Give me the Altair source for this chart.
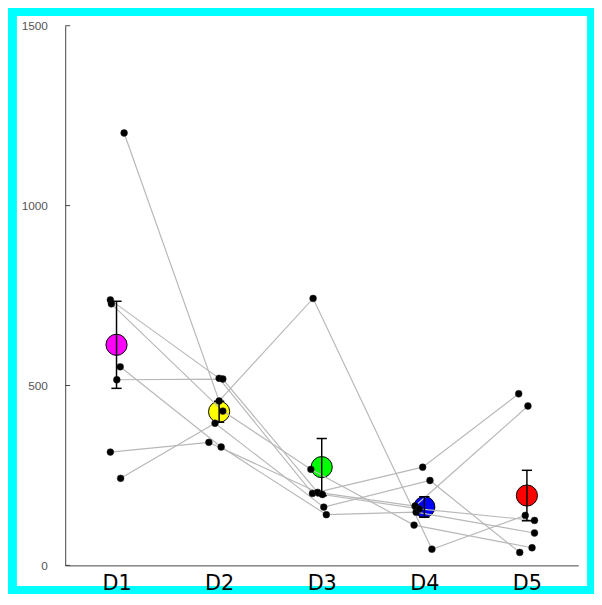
import altair as alt
import pandas as pd

groups = ["D1", "D2", "D3", "D4", "D5"]
subjects = ["S1", "S2", "S3", "S4", "S5", "S6", "S7"]

# values per subject (same order in every list)
d1 = [1202, 738, 727, 552, 516, 315, 242]
d2 = [457, 520, 429, 329, 518, 342, 395]
d3 = [742, 200, 267, 141, 203, 197, 162]
d4 = [45, 273, 112, 148, 165, 157, 236]
d5 = [139, 477, 49, 90, 443, 125, 36]

# horizontal jitter of each point, in group units
j1 = [0.074, -0.06, -0.05, 0.036, 0.003, -0.06, 0.04]
j2 = [0.0, 0.0, 0.036, 0.02, 0.036, -0.10, -0.04]
j3 = [-0.084, -0.09, -0.106, 0.045, -0.04, 0.007, 0.02]
j4 = [0.074, -0.016, -0.10, -0.08, -0.09, -0.05, 0.055]
j5 = [-0.016, -0.08, 0.05, 0.074, 0.01, 0.074, -0.07]

mean_colors = ["#ff00ff", "#ffff00", "#00ff00", "#0000ff", "#ff0000"]
y_ticks = [0, 500, 1000, 1500]

values = [d1, d2, d3, d4, d5]
jitters = [j1, j2, j3, j4, j5]
rows = []
for gi, (g, vals, jit) in enumerate(zip(groups, values, jitters), start=1):
    for s, v, j in zip(subjects, vals, jit):
        rows.append({"subject": s, "group": g, "gi": gi, "xj": gi + j, "value": v})
df = pd.DataFrame(rows)

W, H = 520, 547
xscale = alt.Scale(domain=[0.5, 5.5], nice=False, zero=False)
yscale = alt.Scale(domain=[0, 1500], nice=False)

label_expr = "[" + ",".join("'%s'" % g for g in groups) + "][datum.value - 1]"
xaxis = alt.Axis(values=[1, 2, 3, 4, 5], labelExpr=label_expr, ticks=False, tickSize=0,
                 domainColor="#444444", domainWidth=1, labelFont="DejaVu Sans",
                 labelFontSize=21, labelColor="black", labelPadding=7, grid=False, zindex=1)
yaxis = alt.Axis(values=y_ticks, format="d", ticks=False, tickSize=0, domainColor="#444444",
                 domainWidth=1, labelColor="#555555", labelFont="Liberation Sans",
                 labelFontSize=12, labelPadding=18, grid=False, zindex=1)

frame = alt.Chart(pd.DataFrame({"a": [0]})).mark_rect(color="white").encode(
    x=alt.value(-49), x2=alt.value(529), y=alt.value(-10), y2=alt.value(568)
)

base = alt.Chart(df)

lines = base.mark_line(color="#b8b8b8", strokeWidth=1.2).encode(
    x=alt.X("xj:Q", scale=xscale, axis=xaxis, title=None),
    y=alt.Y("value:Q", scale=yscale, axis=yaxis, title=None),
    detail="subject:N",
    order="gi:Q",
)

means = base.transform_aggregate(
    mean="mean(value)", groupby=["group", "gi"]
).mark_circle(size=460, opacity=1, stroke="black", strokeWidth=1).encode(
    x=alt.X("gi:Q", scale=xscale, axis=xaxis, title=None),
    y=alt.Y("mean:Q", scale=yscale, axis=yaxis, title=None),
    color=alt.Color("group:N", scale=alt.Scale(domain=groups, range=mean_colors), legend=None),
)

points = base.mark_circle(size=48, color="black", opacity=1, stroke="#222222", strokeWidth=0.5).encode(
    x=alt.X("xj:Q", scale=xscale, axis=xaxis, title=None),
    y=alt.Y("value:Q", scale=yscale, axis=yaxis, title=None),
)

stats = base.transform_aggregate(
    mean="mean(value)", sd="stdev(value)", n="count()", groupby=["group", "gi"]
).transform_calculate(
    lo="datum.mean - datum.sd / sqrt(datum.n)",
    hi="datum.mean + datum.sd / sqrt(datum.n)",
    capL="datum.gi - 0.05",
    capR="datum.gi + 0.05",
)

err = stats.mark_rule(color="black", strokeWidth=1.5).encode(
    x=alt.X("gi:Q", scale=xscale, axis=xaxis, title=None),
    y=alt.Y("lo:Q", scale=yscale, axis=yaxis, title=None),
    y2="hi:Q",
)

caps = stats.transform_fold(["lo", "hi"], as_=["end", "yv"]).mark_rule(
    color="black", strokeWidth=1.5
).encode(
    x=alt.X("capL:Q", scale=xscale, axis=xaxis, title=None),
    x2="capR:Q",
    y=alt.Y("yv:Q", scale=yscale, axis=yaxis, title=None),
)

ticks = alt.Chart(pd.DataFrame({"t": y_ticks})).mark_rule(color="#444444", strokeWidth=1).encode(
    y=alt.Y("t:Q", scale=yscale, axis=yaxis, title=None),
    x=alt.value(0),
    x2=alt.value(5),
)

chart = alt.layer(frame, means, lines, points, err, caps, ticks).properties(
    width=W,
    height=H,
    autosize=alt.AutoSizeParams(type="none"),
    padding={"left": 58, "top": 14, "right": 16, "bottom": 25},
    background="#00ffff",
).configure_view(stroke=None)

chart.save("out.html", embed_options={"renderer": "svg", "actions": False})
